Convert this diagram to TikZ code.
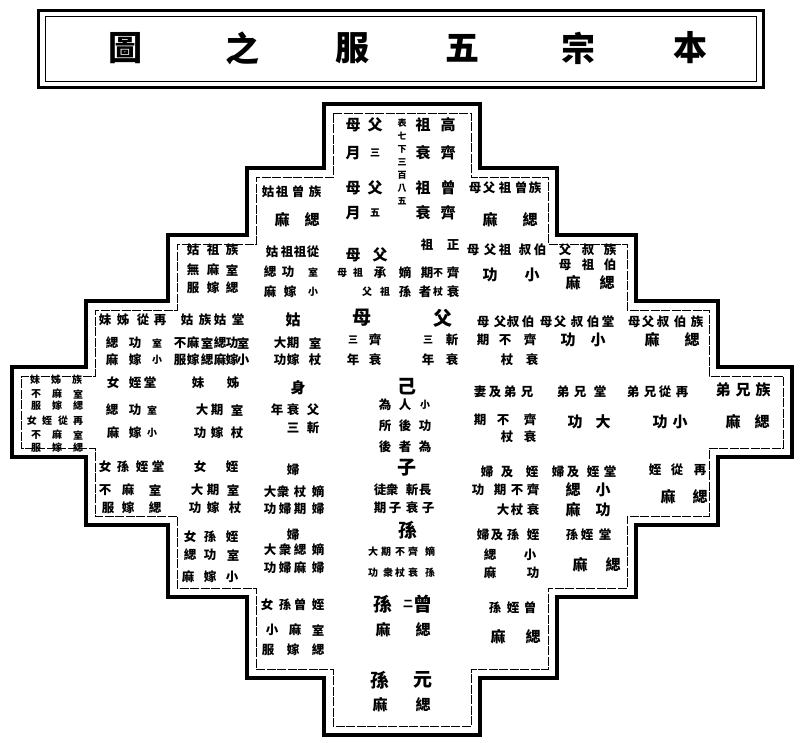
\documentclass[tikz,border=0pt]{standalone}
\usepackage{fontspec}
\setmainfont{Noto Sans CJK TC}
\usetikzlibrary{calc}

\tikzset{
  zi/.style={inner sep=0pt, font=\fontsize{12.5}{12.5}\selectfont\bfseries},
  zis/.style={inner sep=0pt, font=\fontsize{10}{10}\selectfont\bfseries},
  zim/.style={inner sep=0pt, font=\fontsize{15}{15}\selectfont\bfseries},
  zib/.style={inner sep=0pt, font=\fontsize{19}{19}\selectfont\bfseries},
  biaoti/.style={inner sep=0pt, font=\fontsize{34}{34}\selectfont\bfseries},
  waikuang/.style={line width=4.5pt, line join=miter},
  neikuang/.style={line width=0.6pt, dash pattern=on 9pt off 1.5pt},
}

% one row of glyphs: x/char pairs at height y
\newcommand\zr[3][zi]{\foreach \x/\c in {#3}{\node[#1] at (\x,#2) {\c};}}

% the stepped outline, drawn #1 pt inside the outer one
\newcommand\jieti[2]{%
  \draw[#2] ({324+#1},{104+#1}) -- ({480-#1},{104+#1}) -- ({480-#1},{168+#1}) -- ({557-#1},{168+#1})
    -- ({557-#1},{235+#1}) -- ({636-#1},{235+#1}) -- ({636-#1},{301+#1}) -- ({718-#1},{301+#1})
    -- ({718-#1},{367+#1}) -- ({792-#1},{367+#1}) -- ({792-#1},{457-#1}) -- ({718-#1},{457-#1})
    -- ({718-#1},{525-#1}) -- ({636-#1},{525-#1}) -- ({636-#1},{597-#1}) -- ({557-#1},{597-#1})
    -- ({557-#1},{678-#1}) -- ({480-#1},{678-#1}) -- ({480-#1},{735-#1}) -- ({324+#1},{735-#1})
    -- ({324+#1},{678-#1}) -- ({247+#1},{678-#1}) -- ({247+#1},{597-#1}) -- ({168+#1},{597-#1})
    -- ({168+#1},{525-#1}) -- ({86+#1},{525-#1}) -- ({86+#1},{457-#1}) -- ({12+#1},{457-#1})
    -- ({12+#1},{367+#1}) -- ({86+#1},{367+#1}) -- ({86+#1},{301+#1}) -- ({168+#1},{301+#1})
    -- ({168+#1},{235+#1}) -- ({247+#1},{235+#1}) -- ({247+#1},{168+#1}) -- ({324+#1},{168+#1}) -- cycle;}

\begin{document}
\begin{tikzpicture}[x=1pt, y=-1pt]
  \useasboundingbox (0,0) rectangle (800,742);

  % title
  \draw[line width=3pt] (38,10) rectangle (763,87);
  \draw[line width=0.6pt] (45,16) rectangle (756,81);
  \zr[biaoti]{48}{125/圖, 242/之, 352/服, 462/五, 578/宗, 690/本}

  % frame
  \jieti{0}{waikuang}
  \jieti{9}{neikuang}

  % top: 高祖, 曾祖
  \zr[zim]{125}{448/高, 423/祖, 375/父, 353/母}
  \zr[zim]{153}{448/齊, 423/衰, 353/月}
  \zr[zis]{153}{375/三}
  \zr[zim]{188}{448/曾, 423/祖, 375/父, 353/母}
  \zr[zim]{213}{448/齊, 423/衰, 353/月}
  \zr[zis]{213}{375/五}
  \node[zis, align=center, font=\fontsize{9}{13}\selectfont\bfseries, anchor=north] (biao) at (402,119) {表\\七\\下\\三\\百\\八\\五};

  % row of 曾祖
  \zr{192}{315/族, 298/曾, 282/祖, 268/姑}
  \zr[zim]{220}{312/緦, 282/麻}
  \zr{188}{535/族, 521/曾, 505/祖, 489/父, 475/母}
  \zr[zim]{220}{530/緦, 490/麻}

  % row of 祖
  \zr{250}{232/族, 213/祖, 193/姑}
  \zr{270}{232/室, 213/麻, 193/無}
  \zr{288}{232/緦, 213/嫁, 193/服}
  \zr{252}{313/從, 300/祖, 287/祖, 272/姑}
  \zr{272}{288/功, 270/緦}
  \zr[zis]{272}{313/室}
  \zr{292}{290/嫁, 270/麻}
  \zr[zis]{292}{313/小}
  \zr{245}{453/正, 427/祖}
  \zr[zim]{255}{380/父, 353/母}
  \zr{273}{453/齊, 427/期, 405/嫡, 380/承}
  \zr[zis]{273}{438/不, 358/祖, 342/母}
  \zr{292}{453/衰, 425/者, 405/孫}
  \zr[zis]{292}{438/杖, 385/祖, 367/父}
  \zr{250}{540/伯, 525/叔, 505/祖, 490/父, 473/母}
  \zr[zim]{275}{532/小, 490/功}
  \zr{250}{610/族, 588/叔, 565/父}
  \zr{265}{610/伯, 588/祖, 565/母}
  \zr[zim]{283}{607/緦, 573/麻}

  % row of 父
  \zr{320}{160/再, 143/從, 123/姊, 105/妹, 205/族, 187/姑, 238/堂, 220/姑}
  \zr[zim]{320}{293/姑}
  \zr{343}{135/功, 112/緦, 207/室, 193/麻, 180/不, 243/室, 232/功, 220/緦, 315/室, 293/期, 280/大}
  \zr{360}{135/嫁, 112/麻, 207/緦, 193/嫁, 180/服, 243/小, 232/嫁, 220/麻, 315/杖, 293/嫁, 280/功}
  \zr[zis]{343}{157/室}
  \zr[zis]{360}{157/小}
  \zr[zib]{318}{443/父, 362/母}
  \zr{340}{452/斬, 375/齊}
  \zr[zis]{340}{428/三, 353/三}
  \zr{360}{452/衰, 428/年, 375/衰, 353/年}
  \zr{322}{528/伯, 513/叔, 500/父, 483/母, 608/堂, 593/伯, 577/叔, 560/父, 546/母, 697/族, 680/伯, 663/叔, 648/父, 634/母}
  \zr{340}{530/齊, 505/不, 483/期}
  \zr[zim]{340}{598/小, 568/功, 692/緦, 652/麻}
  \zr{360}{532/衰, 507/杖}

  % row of 己
  \zr[zis]{380}{77/族, 56/姊, 35/妹}
  \zr[zis]{394}{78/室, 57/麻, 36/不}
  \zr[zis]{406}{78/緦, 57/嫁, 36/服}
  \zr[zis]{421}{78/再, 63/從, 47/姪, 32/女}
  \zr[zis]{435}{78/室, 57/麻, 36/不}
  \zr[zis]{448}{78/緦, 57/嫁, 36/服}
  \zr{383}{150/堂, 135/姪, 113/女, 233/姊, 198/妹}
  \zr{410}{135/功, 112/緦, 237/室, 217/期, 202/大}
  \zr{433}{135/嫁, 113/麻, 237/杖, 217/嫁, 200/功}
  \zr[zis]{410}{152/室}
  \zr[zis]{433}{152/小}
  \zr[zim]{388}{298/身}
  \zr{410}{313/父, 293/衰, 277/年}
  \zr{428}{313/斬, 293/三}
  \zr[zib]{387}{407/己}
  \zr{405}{405/人, 385/為}
  \zr[zis]{405}{425/小}
  \zr{426}{425/功, 405/後, 385/所}
  \zr{447}{425/為, 405/者, 385/後}
  \zr{392}{527/兄, 510/弟, 495/及, 480/妻, 600/堂, 580/兄, 563/弟, 682/再, 665/從, 650/兄, 633/弟}
  \zr[zim]{390}{763/族, 743/兄, 723/弟}
  \zr{420}{530/齊, 503/不, 480/期}
  \zr[zim]{422}{603/大, 575/功, 680/小, 660/功, 762/緦, 733/麻}
  \zr{437}{530/衰, 507/杖}

  % row of 子
  \zr{470}{293/婦}
  \zr{492}{318/嫡, 300/杖, 283/衆, 270/大}
  \zr{509}{318/婦, 300/期, 285/婦, 270/功}
  \zr{467}{158/堂, 142/姪, 123/孫, 105/女, 232/姪, 200/女}
  \zr{490}{155/室, 128/麻, 105/不, 233/室, 213/期, 197/大}
  \zr{508}{155/緦, 128/嫁, 108/服, 235/杖, 213/嫁, 195/功}
  \zr[zib]{468}{407/子}
  \zr{490}{425/長, 412/斬, 392/衆, 380/徒}
  \zr{508}{428/子, 412/衰, 395/子, 380/期}
  \zr{472}{532/姪, 507/及, 487/婦, 610/堂, 593/姪, 573/及, 558/婦}
  \zr{490}{533/齊, 517/不, 500/期, 478/功}
  \zr[zim]{490}{603/小, 573/緦}
  \zr{510}{533/衰, 517/杖, 503/大}
  \zr[zim]{510}{603/功, 573/麻}
  \zr{470}{700/再, 677/從, 655/姪}
  \zr[zim]{497}{700/緦, 668/麻}

  % row of 孫
  \zr{535}{293/婦}
  \zr{550}{318/嫡, 300/緦, 285/衆, 270/大}
  \zr{568}{318/婦, 300/麻, 285/婦, 270/功}
  \zr{537}{232/姪, 210/孫, 190/女}
  \zr{555}{233/室, 210/功, 190/緦}
  \zr{577}{232/小, 210/嫁, 188/麻}
  \zr[zib]{530}{408/孫}
  \zr[zis]{552}{430/嫡, 413/齊, 400/不, 386/期, 373/大}
  \zr[zis]{573}{430/孫, 413/衰, 400/杖, 388/衆, 373/功}
  \zr{535}{533/姪, 513/孫, 497/及, 483/婦, 605/堂, 587/姪, 572/孫}
  \zr{555}{530/小, 490/緦}
  \zr[zim]{565}{613/緦, 580/麻}
  \zr{573}{533/功, 490/麻}

  % row of 曾孫, 元孫
  \zr{605}{318/姪, 300/曾, 285/孫, 267/女}
  \zr{630}{318/室, 295/麻, 272/小}
  \zr{650}{318/緦, 293/嫁, 268/服}
  \zr[zib]{604}{423/曾, 383/孫}
  \zr[zis]{604}{408/二}
  \zr[zim]{630}{423/緦, 383/麻}
  \zr{608}{530/曾, 513/姪, 495/孫}
  \zr[zim]{637}{533/緦, 498/麻}
  \zr[zib]{680}{423/元, 380/孫}
  \zr[zim]{705}{423/緦, 380/麻}
\end{tikzpicture}
\end{document}
